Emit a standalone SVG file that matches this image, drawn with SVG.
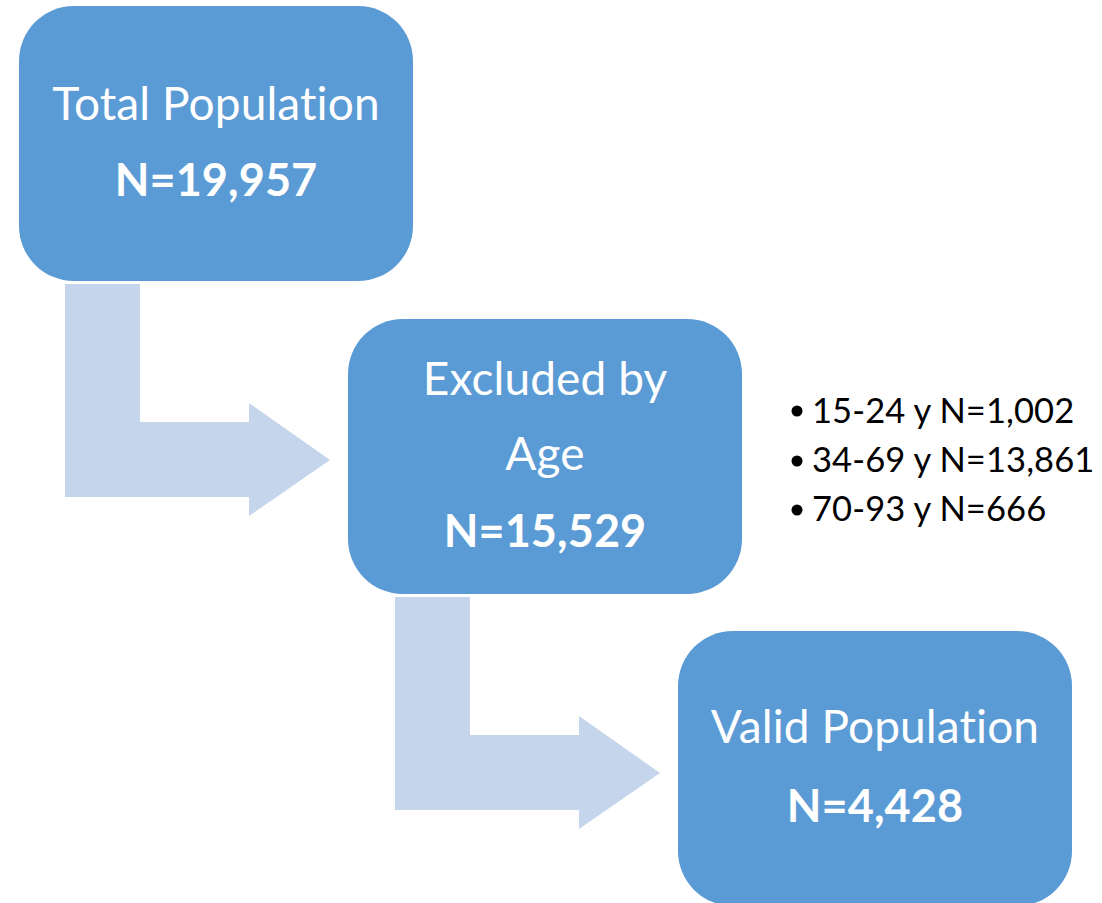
<svg xmlns="http://www.w3.org/2000/svg" width="1102" height="903" viewBox="0 0 1102 903">
<style>
.box{fill:#5B9BD5}
.arrow{fill:#C5D5EB}
text{font-variant-ligatures:none;font-feature-settings:"liga" 0,"clig" 0,"dlig" 0;letter-spacing:0.1px}
.t{font-family:Lato,"Open Sans",sans-serif;fill:#fff;text-anchor:middle;font-size:46px}
.b{font-weight:bold;font-size:45px}
.l{font-family:Lato,"Open Sans",sans-serif;fill:#000;font-size:34.5px}
</style>
<rect width="1102" height="903" fill="#fff"/>
<g id="connectors">
<path class="arrow" d="M65,284 H140 V422 H249 V403 L330,460 L249,516 V497 H65 Z"/>
<path class="arrow" d="M395,597 H470 V735 H579 V716 L660,773 L579,829 V810 H395 Z"/>
</g>
<g id="total">
<rect class="box" x="19" y="6" width="394" height="275" rx="55"/>
<text class="t" x="216" y="120">Total Population</text>
<text class="t b" x="216" y="196">N=19,957</text>
</g>
<g id="excluded">
<rect class="box" x="348" y="319" width="394" height="275" rx="55"/>
<text class="t" x="545" y="395">Excluded by</text>
<text class="t" x="545" y="470">Age</text>
<text class="t b" x="545" y="547">N=15,529</text>
</g>
<g id="valid">
<rect class="box" x="678" y="631" width="394" height="275" rx="55"/>
<text class="t" x="875" y="743">Valid Population</text>
<text class="t b" x="875" y="822">N=4,428</text>
</g>
<g id="details">
<circle cx="797" cy="411" r="5.5"/>
<circle cx="797" cy="461" r="5.5"/>
<circle cx="797" cy="510" r="5.5"/>
<text class="l" x="812" y="423">15-24 y N=1,002</text>
<text class="l" x="812" y="472">34-69 y N=13,861</text>
<text class="l" x="812" y="521">70-93 y N=666</text>
</g>
</svg>
